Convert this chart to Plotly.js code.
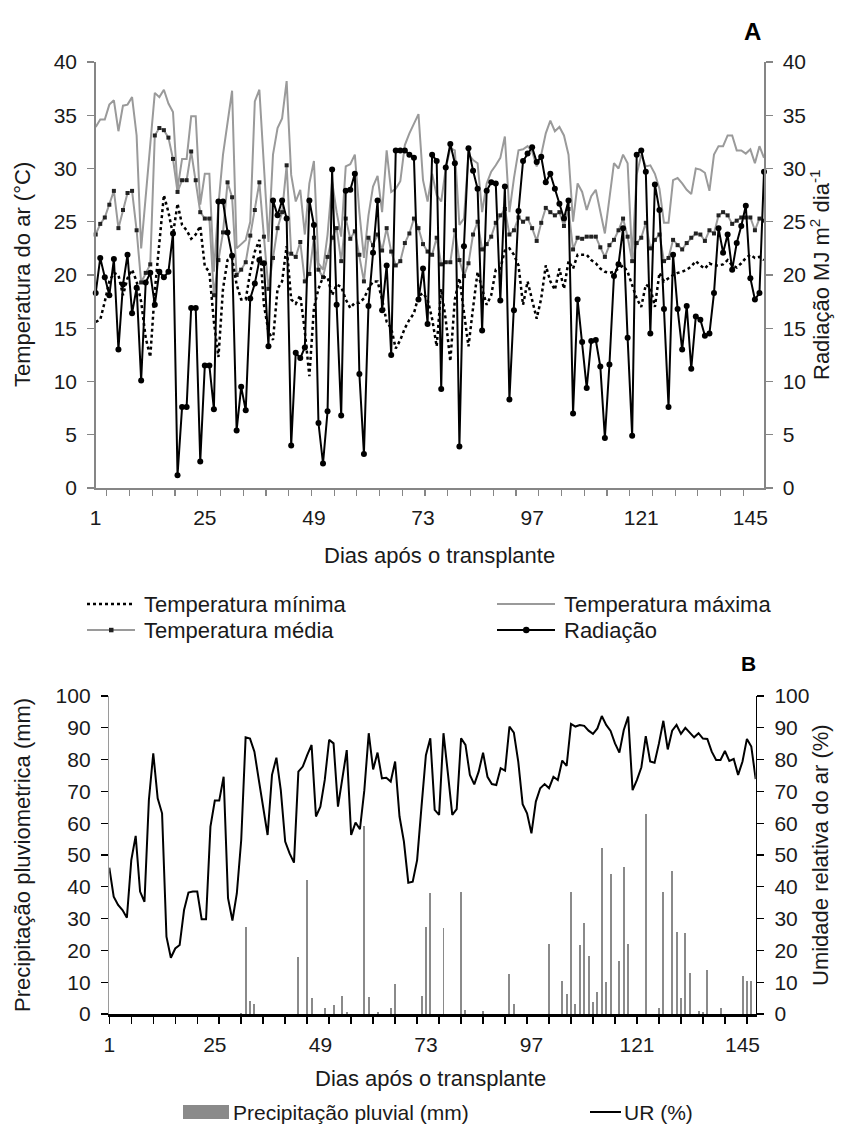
<!DOCTYPE html>
<html><head><meta charset="utf-8">
<script src="https://cdn.plot.ly/plotly-3.0.1.min.js"></script>
<style>html,body{margin:0;padding:0;background:#fff}#chart{width:847px;height:1136px}</style>
</head><body><div id="chart"></div>
<script>
// Days after transplanting (categories 1..148)
const days = Array.from({length:148}, (_, i) => i + 1);
const xTickLabels = [1, 25, 49, 73, 97, 121, 145];

// Panel A (°C and MJ m-2 day-1)
const tmin = [15.6,15.8,17.5,19.4,20.2,20.0,18.1,19.7,20.5,19.4,17.5,14.1,12.3,18.5,23.0,27.5,25.9,23.8,26.7,24.7,24.2,23.4,23.8,24.6,20.8,20.3,15.6,12.3,18.7,21.4,21.6,19.1,17.7,17.7,20.3,22.2,23.3,
17.2,14.7,13.9,18.7,19.4,22.7,17.7,17.3,18.1,14.7,10.5,16.9,18.7,19.8,19.8,18.1,19.1,18.9,17.7,16.9,17.4,17.4,17.8,18.7,19.4,19.4,17.7,15.6,15.0,13.1,13.9,15.0,15.8,16.4,18.0,18.3,17.7,
15.9,13.3,18.7,15.8,11.9,17.7,19.7,16.6,13.3,16.9,20.3,18.7,17.2,18.1,20.5,20.6,22.3,22.5,21.9,20.9,17.2,19.4,17.7,15.9,17.8,20.9,19.4,18.6,20.6,18.7,21.3,20.6,21.9,21.9,21.9,21.4,21.1,
20.6,20.3,20.2,20.3,20.6,20.9,20.3,19.1,17.8,17.0,19.1,18.8,17.0,20.2,19.4,19.7,20.0,20.2,20.3,20.5,20.8,21.3,20.9,20.6,21.1,20.9,20.9,21.0,21.4,20.9,20.7,21.1,21.6,21.9,21.6,21.7,21.4];

const tmax = [33.9,34.6,34.6,36.0,36.4,33.5,35.9,36.0,36.7,33.1,22.5,27.5,32.5,37.1,36.7,37.4,36.1,35.3,28.1,30.9,30.9,34.9,34.9,26.6,29.5,29.5,20.3,26.6,31.3,34.4,37.3,22.5,22.9,23.3,25.0,36.3,37.4,
30.0,23.1,31.3,33.8,34.7,38.2,29.4,26.9,28.0,23.8,28.6,30.7,21.1,20.5,23.8,28.8,25.9,23.6,30.2,30.4,31.3,25.9,21.6,25.6,28.3,29.3,25.9,31.7,27.8,28.1,28.8,32.2,33.3,34.2,35.1,28.9,26.9,
29.5,27.5,26.9,30.0,31.9,31.7,24.7,25.3,31.3,30.8,30.5,25.9,28.6,29.7,30.3,31.0,33.0,25.9,29.1,31.7,31.8,32.1,31.6,30.2,31.3,33.3,34.5,33.5,33.9,33.1,31.3,25.0,28.6,27.8,26.1,27.4,28.0,
25.9,23.9,27.2,30.5,30.0,31.3,30.5,21.6,29.4,31.3,30.2,30.3,29.5,28.1,24.9,24.9,28.9,29.1,28.6,28.0,27.6,30.0,29.9,29.6,27.9,31.3,32.1,32.1,33.1,33.1,31.7,31.7,31.4,31.8,30.5,32.1,31.0];

const tmed = [23.8,24.8,25.4,26.6,27.9,24.4,26.1,27.7,27.9,24.2,19.3,20.2,21.0,33.1,33.8,33.6,32.9,30.9,27.8,28.9,28.9,31.6,28.9,25.9,25.3,25.3,18.1,21.4,24.0,28.7,27.3,20.0,20.5,21.2,23.7,26.1,28.7,
23.6,18.7,21.6,24.4,25.9,30.3,22.0,21.7,23.1,19.4,20.1,23.5,20.5,19.8,21.7,23.5,24.4,21.3,25.3,23.4,24.1,21.9,19.4,23.5,22.8,23.8,22.3,24.4,22.2,20.9,21.3,23.0,23.9,25.3,24.4,22.9,22.2,
21.9,23.5,21.0,21.2,21.2,24.2,21.4,19.9,21.1,23.8,25.0,22.4,22.9,23.6,24.9,25.6,26.2,23.8,24.2,25.4,25.0,25.3,24.4,23.2,24.9,26.3,25.9,25.6,25.9,24.6,26.2,22.4,23.5,23.4,23.6,23.6,23.6,
22.6,21.7,22.8,23.3,24.2,25.3,23.6,21.3,23.0,23.5,24.9,22.5,23.3,23.8,21.3,21.6,23.3,22.8,22.4,23.0,23.5,23.9,23.8,23.2,24.2,23.9,25.6,25.9,25.6,24.8,25.1,25.4,25.4,25.4,24.2,25.3,25.1];

const rad = [18.3,21.6,19.8,18.1,21.5,13.0,19.1,21.9,16.4,18.8,10.1,19.3,20.2,17.2,20.3,19.8,20.3,23.9,1.2,7.6,7.6,16.9,16.9,2.5,11.5,11.5,7.4,26.9,26.9,24.0,21.8,5.4,9.5,7.3,17.8,19.2,21.4,
21.1,13.3,27.0,25.6,27.0,25.3,4.0,12.7,12.2,13.2,27.0,24.7,6.1,2.3,7.2,29.9,17.2,6.8,27.9,28.0,29.5,10.7,3.2,17.1,22.1,27.0,16.7,20.9,12.5,31.7,31.7,31.7,31.3,31.0,17.7,20.6,15.4,
31.3,30.7,9.3,30.1,32.3,30.5,3.9,22.7,31.9,29.8,28.1,14.8,27.9,28.7,28.6,17.6,28.3,8.3,16.7,26.0,30.7,31.4,32.0,30.6,31.1,28.7,29.5,28.1,26.7,25.3,27.0,7.0,17.7,13.7,9.4,13.8,13.9,
11.4,4.7,11.6,19.9,21.0,24.4,14.1,4.9,31.3,31.7,29.7,14.5,28.5,26.1,16.8,7.6,21.9,16.8,13.0,17.1,11.2,16.1,15.8,14.3,14.5,18.3,24.4,22.1,23.8,20.5,23.0,24.6,26.5,19.7,17.7,18.3,29.7];

// Panel B (mm and %)
const rain = [0,0,0,0,0,0,0,0,0,0, 0,0,0,0,0,0,0,0,0,0, 0,0,0,0,0,0,0,0,0,0,
0.4,27.5,4.2,3.1,0,0,0,0,0,0, 0,0,0,17.8,0,42.1,5.1,0,0,1.8,
0,2.8,0,5.8,0.5,0,0,0,59.1,5.5, 0,0.5,0,0,1.8,9.4,0,0,0,0,
0,5.8,27.3,37.9,0,0,26.9,0,0,0, 38.5,1.3,0,0,0,1.0,0,0,0,0,
0,12.5,3.1,0,0,0,0,0,0,0, 22.0,0,0,10.5,6.3,38.5,3.1,21.7,28.5,18.2,
3.9,6.8,52.1,10.0,43.9,0,16.7,46.3,22.0,0, 0,0,62.8,0,0,1.8,38.3,0,45.0,25.7,
4.9,25.4,13.0,0,1.0,0.5,13.8,0,0,1.8, 0,0,0,0,12.1,10.5,10.5,0];

const ur = [46.0,36.9,34.3,32.7,30.3,48.4,56.0,38.5,35.3,67.3,82.0,67.8,63.1,24.3,17.7,20.6,21.7,32.7,38.2,38.5,38.5,29.8,29.8,58.9,67.1,67.1,74.6,36.4,29.4,37.9,54.7,87.0,86.6,82.5,73.6,
65.2,56.3,75.2,80.6,70.4,54.2,50.5,47.6,76.2,77.8,81.4,84.6,62.1,65.2,73.6,86.2,85.1,65.2,74.1,83.0,56.3,60.2,58.1,70.4,88.3,76.9,82.2,74.1,74.3,73.1,79.4,62.1,54.2,41.3,41.6,48.4,65.2,81.4,86.7,
64.2,62.6,88.3,75.7,62.6,64.4,86.7,84.6,75.2,72.2,76.2,82.2,74.6,72.3,72.0,77.3,76.5,90.4,88.5,79.4,66.0,63.1,56.8,66.8,71.0,72.3,71.0,74.6,73.6,79.7,78.0,91.2,90.4,90.9,90.6,89.1,88.1,89.8,
93.7,90.9,89.0,85.1,82.2,89.3,93.5,70.4,73.6,77.6,87.4,79.4,79.0,85.1,92.2,83.2,89.1,90.9,88.1,90.0,88.6,87.0,88.3,86.6,86.5,82.5,79.9,79.9,82.7,79.6,80.2,75.2,79.4,86.5,84.1,73.9];

const W = 847, H = 1136;
const px = x => x / W, py = y => 1 - y / H;
const FONT = 'Liberation Sans, Arial, sans-serif';
const TXT = '#1a1a1a';
const gA = '#868686';
const FS = 22;

const traces = [
  {type:'scatter', x:days, y:tmax, xaxis:'x', yaxis:'y', mode:'lines', line:{color:'#9a9a9a', width:2}, hoverinfo:'skip'},
  {type:'scatter', x:days, y:tmed, xaxis:'x', yaxis:'y', mode:'lines+markers', line:{color:'#9a9a9a', width:2},
   marker:{symbol:'square', size:4, color:'#222'}, cliponaxis:false, hoverinfo:'skip'},
  {type:'scatter', x:days, y:tmin, xaxis:'x', yaxis:'y', mode:'lines', line:{color:'#000', width:2.5, dash:'dot'}, hoverinfo:'skip'},
  {type:'scatter', x:days, y:rad, xaxis:'x', yaxis:'y2', mode:'lines+markers', line:{color:'#000', width:2},
   marker:{symbol:'circle', size:6, color:'#000'}, cliponaxis:false, hoverinfo:'skip'},
  {type:'bar', x:days, y:rain, xaxis:'x2', yaxis:'y3', marker:{color:'#8a8a8a'}, width:0.45, hoverinfo:'skip'},
  {type:'scatter', x:days, y:ur, xaxis:'x2', yaxis:'y4', mode:'lines', line:{color:'#000', width:2}, hoverinfo:'skip'}
];

const tf = {family:FONT, size:21, color:TXT};

const layout = {
  width:W, height:H, margin:{l:0, r:0, t:0, b:0}, showlegend:false,
  paper_bgcolor:'#fff', plot_bgcolor:'#fff', font:{family:FONT, color:TXT},
  xaxis:{domain:[px(95.7), px(764)], anchor:'y', range:[1,148], showline:true, linecolor:gA, linewidth:1.5,
    tickmode:'array', tickvals:xTickLabels, ticks:'', ticklabelstandoff:10, tickfont:tf, showgrid:false, zeroline:false,
    minor:{tick0:3.45, dtick:5, ticks:'outside', ticklen:6, tickcolor:gA, tickwidth:1.2, showgrid:false}},
  yaxis:{domain:[py(488), py(62)], anchor:'x', range:[0,40], dtick:5, showline:true, linecolor:gA, linewidth:1.5,
    ticks:'outside', ticklen:7, tickcolor:gA, tickwidth:1.2, ticklabelstandoff:6, tickfont:tf, showgrid:false, zeroline:false},
  yaxis2:{overlaying:'y', anchor:'x', side:'right', range:[0,40], dtick:5, showline:true, linecolor:gA, linewidth:1.5,
    ticks:'outside', ticklen:7, tickcolor:gA, tickwidth:1.2, ticklabelstandoff:6, tickfont:tf, showgrid:false, zeroline:false},
  xaxis2:{domain:[px(109.3), px(755.7)], anchor:'y3', range:[1,148], showline:true, linecolor:'#000', linewidth:2.5,
    tickmode:'array', tickvals:xTickLabels, ticks:'', ticklabelstandoff:10, tickfont:tf, showgrid:false, zeroline:false,
    minor:{tick0:1, dtick:5, ticks:'outside', ticklen:7, tickcolor:'#000', tickwidth:1.5, showgrid:false}},
  yaxis3:{domain:[py(1014), py(696)], anchor:'x2', range:[0,100], dtick:10, showline:true, linecolor:'#9a9a9a', linewidth:1.5,
    ticks:'outside', ticklen:7, tickcolor:'#000', tickwidth:1.2, ticklabelstandoff:6, tickfont:tf, showgrid:false, zeroline:false},
  yaxis4:{overlaying:'y3', anchor:'x2', side:'right', range:[0,100], dtick:10, showline:true, linecolor:'#000', linewidth:1.5,
    ticks:'outside', ticklen:7, tickcolor:'#000', tickwidth:1.2, ticklabelstandoff:6, tickfont:tf, showgrid:false, zeroline:false},
  bargap:0,
  annotations:[],
  shapes:[]
};

function ann(text, x, y, o = {}) {
  layout.annotations.push(Object.assign({text, x:px(x), y:py(y), xref:'paper', yref:'paper', showarrow:false,
    xanchor:'center', yanchor:'middle', font:{family:FONT, size:FS, color:TXT}}, o));
}
function line(x0, x1, y, l) {
  layout.shapes.push({type:'line', xref:'paper', yref:'paper', x0:px(x0), x1:px(x1), y0:py(y), y1:py(y), line:l});
}

// Titles
ann('Temperatura do ar (°C)', 22, 275, {textangle:-90});
ann('Radiação MJ m<sup>2</sup> dia<sup>-1</sup>', 820, 275, {textangle:-90});
ann('Dias após o transplante', 440, 555);
ann('<b>A</b>', 752, 32, {font:{family:FONT, size:24, color:'#000'}});
ann('Precipitação pluviometrica (mm)', 22, 855, {textangle:-90});
ann('Umidade relativa do ar (%)', 820, 855, {textangle:-90});
ann('Dias após o transplante', 430, 1078);
ann('<b>B</b>', 748, 663, {font:{family:FONT, size:21, color:'#000'}});

// Legend A
line(87, 135, 604, {color:'#000', width:2.5, dash:'dot'});
ann('Temperatura mínima', 142, 604, {xanchor:'left'});
line(497, 555, 604, {color:'#9a9a9a', width:2});
ann('Temperatura máxima', 562, 604, {xanchor:'left'});
line(87, 135, 630, {color:'#9a9a9a', width:2});
layout.shapes.push({type:'rect', xref:'paper', yref:'paper', x0:px(109), x1:px(113.5), y0:py(632.3), y1:py(627.8),
  fillcolor:'#222', line:{width:0}});
ann('Temperatura média', 142, 630, {xanchor:'left'});
line(497, 555, 630, {color:'#000', width:2});
layout.shapes.push({type:'circle', xref:'paper', yref:'paper', x0:px(523), x1:px(529.5), y0:py(633.3), y1:py(626.8),
  fillcolor:'#000', line:{width:0}});
ann('Radiação', 562, 630, {xanchor:'left'});

// Legend B
layout.shapes.push({type:'rect', xref:'paper', yref:'paper', x0:px(183), x1:px(229), y0:py(1119), y1:py(1105),
  fillcolor:'#8a8a8a', line:{width:0}});
ann('Precipitação pluvial (mm)', 231, 1112, {xanchor:'left', font:{family:FONT, size:21, color:TXT}});
line(590, 621, 1112, {color:'#000', width:2});
ann('UR (%)', 622, 1112, {xanchor:'left', font:{family:FONT, size:21, color:TXT}});

Plotly.newPlot('chart', traces, layout, {staticPlot:true, displayModeBar:false});
</script>
</body></html>
